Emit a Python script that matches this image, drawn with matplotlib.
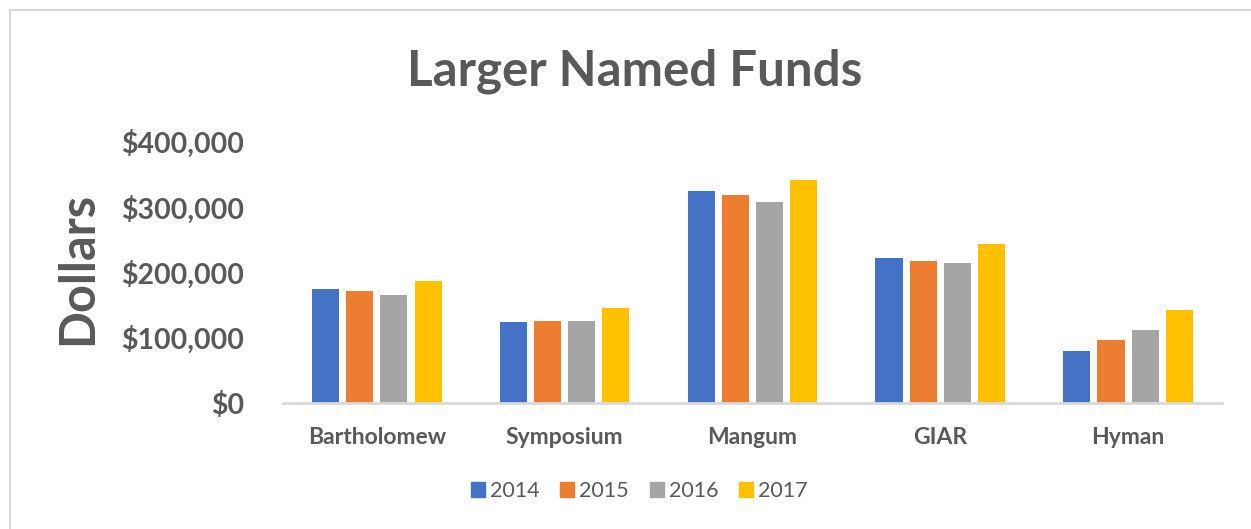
import numpy as np
import matplotlib
matplotlib.use("Agg")
import matplotlib.pyplot as plt
from matplotlib.lines import Line2D
from matplotlib.ticker import FuncFormatter

# --- DATA ---
funds = ['Bartholomew', 'Symposium', 'Mangum', 'GIAR', 'Hyman']
years = ['2014', '2015', '2016', '2017']
vals_2014 = [175000, 124000, 325000, 222000, 80000]
vals_2015 = [172000, 126000, 318000, 218000, 96000]
vals_2016 = [166000, 126000, 307000, 215000, 111000]
vals_2017 = [187000, 146000, 342000, 244000, 142000]
series = [vals_2014, vals_2015, vals_2016, vals_2017]
colors = ['#4472C4', '#ED7D31', '#A5A5A5', '#FFC000']
TEXT = '#595959'

plt.rcParams['font.family'] = ['Lato', 'DejaVu Sans']

fig = plt.figure(figsize=(12.51, 5.29), dpi=100)
ax = fig.add_axes([0.2262, 0.2382, 0.7506, 0.4939])

x = np.arange(len(funds))
step, width = 0.182, 0.144
for i, (vals, c) in enumerate(zip(series, colors)):
    ax.bar(x + (i - 1.5) * step, vals, width, color=c, label=years[i])

ax.set_xlim(-0.5, len(funds) - 0.5)
ax.set_ylim(0, 400000)
ax.set_yticks(np.arange(0, 400001, 100000))
ax.yaxis.set_major_formatter(FuncFormatter(lambda v, p: f"${v:,.0f}"))
ax.set_xticks(x)
ax.set_xticklabels(funds, fontsize=16.5, fontweight='bold', color=TEXT)
for lab in ax.get_yticklabels():
    lab.set_fontsize(20.5)
    lab.set_fontweight('bold')
    lab.set_color(TEXT)
ax.tick_params(axis='both', length=0)
ax.tick_params(axis='x', pad=17)
ax.tick_params(axis='y', pad=28)
for s in ['top', 'right', 'left']:
    ax.spines[s].set_visible(False)
ax.spines['bottom'].set_color('#D9D9D9')
ax.spines['bottom'].set_linewidth(2)

ax.set_ylabel('Dollars', fontsize=35, fontweight='bold', color=TEXT)
ax.yaxis.set_label_coords(-0.195, 0.515)

fig.text(0.507, 0.866, 'Larger Named Funds', ha='center', va='center',
         fontsize=35.5, fontweight='bold', color=TEXT)

handles = [plt.Rectangle((0, 0), 1, 1, color=c) for c in colors]
leg = fig.legend(handles, years, loc='center', bbox_to_anchor=(0.511, 0.072),
                 ncol=4, frameon=False, fontsize=15.5, handlelength=0.65,
                 handleheight=0.65, handletextpad=0.25, columnspacing=0.95)
for t in leg.get_texts():
    t.set_color(TEXT)

# chart-area border (top and left only visible)
fig.add_artist(Line2D([0.008, 1.0], [0.981, 0.981], color='#D9D9D9', lw=1.5,
                      transform=fig.transFigure))
fig.add_artist(Line2D([0.008, 0.008], [0.0, 0.981], color='#D9D9D9', lw=1.5,
                      transform=fig.transFigure))

fig.savefig('out.png', dpi=100)
